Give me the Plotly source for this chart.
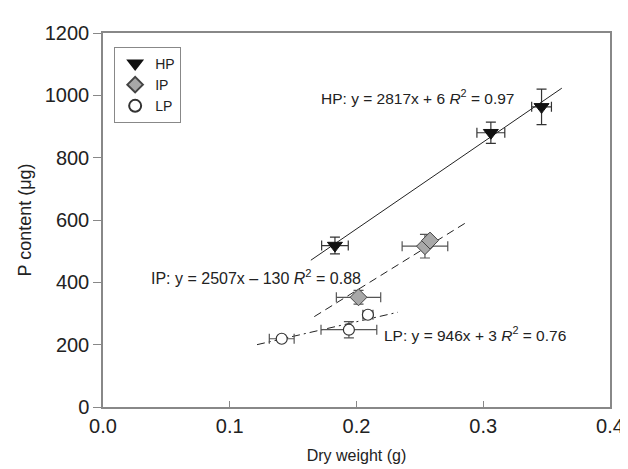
import plotly.graph_objects as go

# ---- data ----
hp_x = [0.183, 0.306, 0.346]
hp_y = [518, 880, 963]
hp_xerr = [0.0105, 0.011, 0.0078]
hp_yerr = [27, 34, 57]

ip_x = [0.2016, 0.254, 0.258]
ip_y = [352, 516, 534]
ip_xerr = [0.0175, 0.018, 0.0]
ip_yerr = [22, 38, 0]

lp_x = [0.141, 0.194, 0.209]
lp_y = [219, 248, 296]
lp_xerr = [0.0098, 0.022, 0.004]
lp_yerr = [6, 26, 12]

hp_line_x = [0.164, 0.362]
hp_line_y = [471, 1023]
ip_line_x = [0.1667, 0.2874]
ip_line_y = [290, 594]
lp_line_x = [0.1215, 0.2326]
lp_line_y = [200, 304]

x_ticks = [0.0, 0.1, 0.2, 0.3, 0.4]
x_tick_labels = ["0.0", "0.1", "0.2", "0.3", "0.4"]
y_ticks = [0, 200, 400, 600, 800, 1000, 1200]

FONT = "Liberation Sans Narrow, Arial Narrow, Liberation Sans, Arial, sans-serif"

fig = go.Figure()

# fit lines
fig.add_trace(go.Scatter(x=hp_line_x, y=hp_line_y, mode="lines",
                         line=dict(color="#222", width=1), showlegend=False, hoverinfo="skip"))
fig.add_trace(go.Scatter(x=ip_line_x, y=ip_line_y, mode="lines",
                         line=dict(color="#222", width=1, dash="8px,5px"), showlegend=False, hoverinfo="skip"))
fig.add_trace(go.Scatter(x=lp_line_x, y=lp_line_y, mode="lines",
                         line=dict(color="#222", width=1, dash="8px,4px,2px,4px"), showlegend=False, hoverinfo="skip"))

err_style = dict(thickness=1.2, width=5)

fig.add_trace(go.Scatter(
    x=hp_x, y=hp_y, mode="markers", name="HP",
    marker=dict(symbol="triangle-down", size=13, color="#111", line=dict(color="#111", width=1)),
    error_x=dict(type="data", array=hp_xerr, color="#333", **err_style),
    error_y=dict(type="data", array=hp_yerr, color="#333", **err_style),
))
fig.add_trace(go.Scatter(
    x=ip_x, y=ip_y, mode="markers", name="IP",
    marker=dict(symbol="diamond", size=13, color="#a8a8a8", line=dict(color="#444", width=1)),
    error_x=dict(type="data", array=ip_xerr, color="#555", **err_style),
    error_y=dict(type="data", array=ip_yerr, color="#555", **err_style),
))
fig.add_trace(go.Scatter(
    x=lp_x, y=lp_y, mode="markers", name="LP",
    marker=dict(symbol="circle", size=11, color="white", line=dict(color="#333", width=1.2)),
    error_x=dict(type="data", array=lp_xerr, color="#555", **err_style),
    error_y=dict(type="data", array=lp_yerr, color="#555", **err_style),
))

ann_font = dict(family=FONT, size=16, color="#222")
fig.add_annotation(x=0.1705, y=995, xref="x", yref="y", xanchor="left", yanchor="middle",
                   text="HP: y = 2817x + 6 <i>R</i><sup>2</sup> = 0.97", showarrow=False,
                   font=dict(family=FONT, size=15.5, color="#222"))
fig.add_annotation(x=0.0365, y=417, xref="x", yref="y", xanchor="left", yanchor="middle",
                   text="IP: y = 2507x – 130 <i>R</i><sup>2</sup> = 0.88", showarrow=False, font=ann_font)
fig.add_annotation(x=0.2205, y=235, xref="x", yref="y", xanchor="left", yanchor="middle",
                   text="LP: y = 946x + 3 <i>R</i><sup>2</sup> = 0.76", showarrow=False,
                   font=dict(family=FONT, size=15.5, color="#222"))

fig.update_layout(
    width=628, height=469,
    margin=dict(l=95, r=17, t=25, b=70),
    plot_bgcolor="white", paper_bgcolor="white",
    font=dict(family=FONT, color="#222"),
    legend=dict(x=0.022, y=0.963, xanchor="left", yanchor="top",
                bordercolor="#888", borderwidth=1, bgcolor="white",
                font=dict(family=FONT, size=14, color="#222"),
                itemsizing="constant", tracegroupgap=0, itemwidth=30),
    xaxis=dict(range=[0, 0.4], tickvals=x_ticks, ticktext=x_tick_labels,
               showgrid=False, zeroline=False, showline=True, linecolor="#888", linewidth=1.5,
               mirror=True, ticks="inside", ticklen=6, tickcolor="#888",
               tickfont=dict(family=FONT, size=20, color="#222"),
               title=dict(text="Dry weight (g)", font=dict(family=FONT, size=16, color="#222"), standoff=14)),
    yaxis=dict(range=[0, 1200], tickvals=y_ticks,
               showgrid=False, zeroline=False, showline=True, linecolor="#888", linewidth=1.5,
               mirror=True, ticks="outside", ticklen=8, tickcolor="#888",
               tickfont=dict(family=FONT, size=20, color="#222"),
               title=dict(text="P content (μg)", font=dict(family=FONT, size=18, color="#222"), standoff=8)),
)

fig.write_html("out.html")
